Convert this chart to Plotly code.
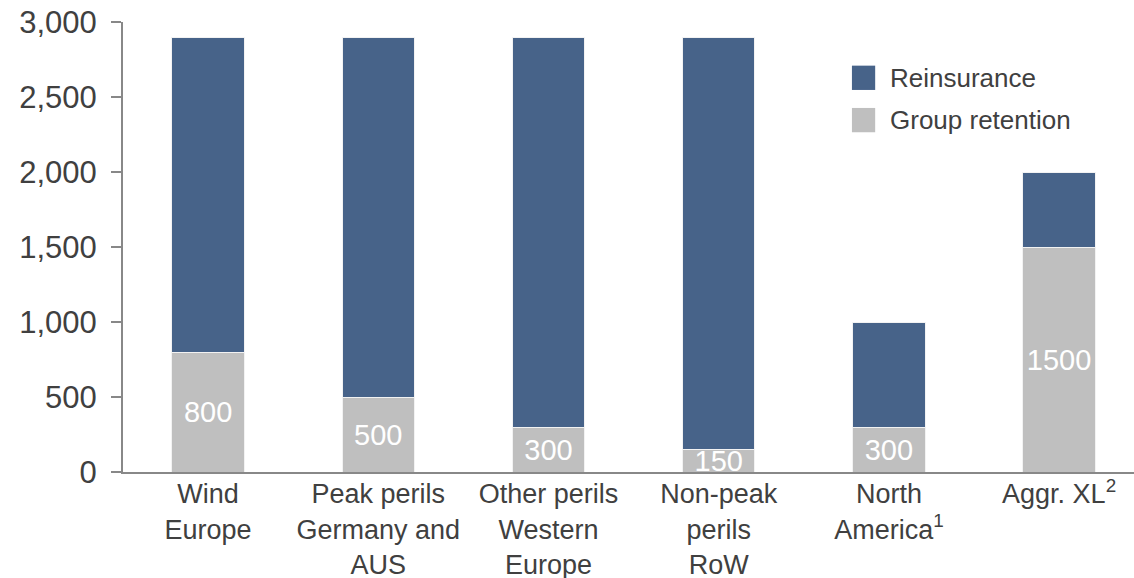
import plotly.graph_objects as go

# Cat XL programme structure by peril (EUR m)
categories = [
    "Wind<br>Europe",
    "Peak perils<br>Germany and<br>AUS",
    "Other perils<br>Western<br>Europe",
    "Non-peak<br>perils<br>RoW",
    "North<br>America<sup>1</sup>",
    "Aggr. XL<sup>2</sup>",
]
group_retention = [800, 500, 300, 150, 300, 1500]
reinsurance = [2100, 2400, 2600, 2750, 700, 500]

BLUE = "#476389"
GREY = "#BFBFBF"
TEXT = "#404040"
FONT = "Liberation Sans, Arial, sans-serif"

fig = go.Figure()

fig.add_trace(go.Bar(
    name="Group retention",
    x=categories,
    y=group_retention,
    marker=dict(color=GREY, line=dict(color="#F2F2F2", width=1)),
    text=[str(v) for v in group_retention],
    textposition="inside",
    insidetextanchor="middle",
    constraintext="none",
    textfont=dict(color="white", size=29, family=FONT),
    width=0.426,
    showlegend=False,
    cliponaxis=True,
))
fig.add_trace(go.Bar(
    name="Reinsurance",
    x=categories,
    y=reinsurance,
    marker=dict(color=BLUE, line=dict(color="#F2F2F2", width=1)),
    width=0.426,
    showlegend=False,
))

fig.update_layout(
    barmode="stack",
    width=1134,
    height=578,
    margin=dict(l=123, r=0, t=22, b=106, autoexpand=False),
    paper_bgcolor="white",
    plot_bgcolor="white",
    font=dict(family=FONT, size=27, color=TEXT),
    xaxis=dict(
        type="category",
        range=[-0.5, 5.44],
        automargin=False,
        showline=True,
        linecolor="#888888",
        linewidth=2,
        ticks="",
        showgrid=False,
        ticklabelstandoff=-3,
        tickfont=dict(size=27, color=TEXT),
    ),
    yaxis=dict(
        range=[0, 3000],
        automargin=False,
        tickvals=[0, 500, 1000, 1500, 2000, 2500, 3000],
        tickformat=",d",
        showline=True,
        linecolor="#888888",
        linewidth=2,
        ticks="outside",
        ticklen=10,
        tickwidth=1.5,
        tickcolor="#888888",
        showgrid=False,
        zeroline=False,
        ticklabelstandoff=8,
        tickfont=dict(size=31, color=TEXT),
    ),
)

# Legend: coloured swatches with labels
legend_items = [("Reinsurance", BLUE, 0.876), ("Group retention", GREY, 0.782)]
for label, color, yc in legend_items:
    fig.add_shape(
        type="rect", xref="paper", yref="paper",
        x0=0.721, x1=0.744, y0=yc - 0.027, y1=yc + 0.027,
        fillcolor=color, line=dict(width=0),
    )
    fig.add_annotation(
        xref="paper", yref="paper", x=0.757, y=yc,
        text=label, showarrow=False, xanchor="left", yanchor="middle",
        font=dict(size=26, color=TEXT, family=FONT),
    )

fig.write_html("out.html")
